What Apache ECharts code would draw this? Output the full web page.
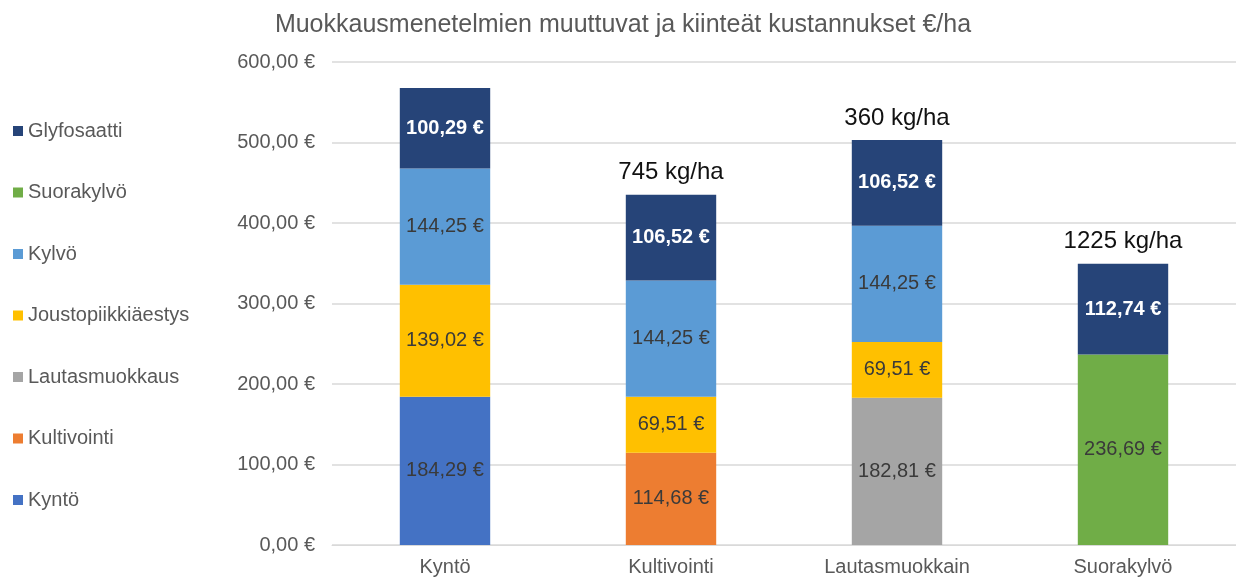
<!DOCTYPE html>
<html>
<head>
<meta charset="utf-8">
<script src="https://cdn.jsdelivr.net/npm/echarts@6/dist/echarts.min.js"></script>
<style>
  html, body { margin: 0; padding: 0; background: #fff; }
  #main { width: 1236px; height: 581px; }
</style>
</head>
<body>
<div id="main"></div>
<script>
var categories = ['Kyntö', 'Kultivointi', 'Lautasmuokkain', 'Suorakylvö'];

// one value per category, '-' where the item is not used
var kynto = [184.29, '-', '-', '-'];
var kultivointi = ['-', 114.68, '-', '-'];
var lautasmuokkaus = ['-', '-', 182.81, '-'];
var suorakylvo = ['-', '-', '-', 236.69];
var joustopiikki = [139.02, 69.51, 69.51, '-'];
var kylvo = [144.25, 144.25, 144.25, '-'];
var glyfosaatti = [100.29, 106.52, 106.52, 112.74];

// text above the bars
var kgLabels = ['', '745 kg/ha', '360 kg/ha', '1225 kg/ha'];

var legendOrder = ['Glyfosaatti', 'Suorakylvö', 'Kylvö', 'Joustopiikkiäestys', 'Lautasmuokkaus', 'Kultivointi', 'Kyntö'];

var chartDom = document.getElementById('main');
var myChart = echarts.init(chartDom);
var option;

function euro(v) {
    return v.toFixed(2).replace('.', ',') + ' €';
}

function barSeries(name, data, color, textColor) {
    return {
        name: name,
        type: 'bar',
        stack: 'cost',
        barWidth: '40%',
        data: data,
        itemStyle: { color: color },
        label: {
            show: true,
            position: 'inside',
            color: textColor,
            fontSize: 20,
            fontWeight: textColor === '#ffffff' ? 'bold' : 'normal',
            fontFamily: 'Liberation Sans',
            formatter: function (p) { return euro(p.value); }
        }
    };
}

option = {
    backgroundColor: '#ffffff',
    textStyle: { fontFamily: 'Liberation Sans' },
    title: {
        text: 'Muokkausmenetelmien muuttuvat ja kiinteät kustannukset €/ha',
        left: 618,
        textAlign: 'center',
        top: 8,
        textStyle: { color: '#595959', fontSize: 25, fontWeight: 'normal', fontFamily: 'Liberation Sans' }
    },
    legend: {
        data: legendOrder,
        orient: 'vertical',
        left: 8,
        top: 116,
        itemWidth: 10,
        itemHeight: 10,
        itemGap: 41.5,
        icon: 'rect',
        textStyle: { color: '#595959', fontSize: 20, fontFamily: 'Liberation Sans' }
    },
    grid: {
        left: 332,
        right: 0,
        top: 62,
        bottom: 36,
        containLabel: false
    },
    xAxis: {
        type: 'category',
        data: categories,
        axisLine: { show: true, lineStyle: { color: '#d9d9d9' } },
        axisTick: { show: false },
        axisLabel: { color: '#595959', fontSize: 20, margin: 12 }
    },
    yAxis: {
        type: 'value',
        min: 0,
        max: 600,
        interval: 100,
        axisLine: { show: false },
        axisTick: { show: false },
        axisLabel: {
            color: '#595959',
            fontSize: 20,
            margin: 17,
            formatter: function (v) { return euro(v); }
        },
        splitLine: { lineStyle: { color: '#d9d9d9', width: 1.5 } }
    },
    series: [
        barSeries('Kyntö', kynto, '#4472c4', '#3a3a3a'),
        barSeries('Kultivointi', kultivointi, '#ed7d31', '#3a3a3a'),
        barSeries('Lautasmuokkaus', lautasmuokkaus, '#a5a5a5', '#3a3a3a'),
        barSeries('Suorakylvö', suorakylvo, '#70ad47', '#3a3a3a'),
        barSeries('Joustopiikkiäestys', joustopiikki, '#ffc000', '#3a3a3a'),
        barSeries('Kylvö', kylvo, '#5b9bd5', '#3a3a3a'),
        barSeries('Glyfosaatti', glyfosaatti, '#264478', '#ffffff'),
        {
            name: 'kg',
            type: 'bar',
            stack: 'cost',
            barWidth: '40%',
            data: kgLabels.map(function () { return 0; }),
            itemStyle: { color: 'transparent' },
            label: {
                show: true,
                position: 'top',
                distance: 10,
                color: '#111111',
                fontSize: 24,
                fontFamily: 'Liberation Sans',
                formatter: function (p) { return kgLabels[p.dataIndex]; }
            }
        }
    ]
};

option && myChart.setOption(option);
</script>
</body>
</html>
